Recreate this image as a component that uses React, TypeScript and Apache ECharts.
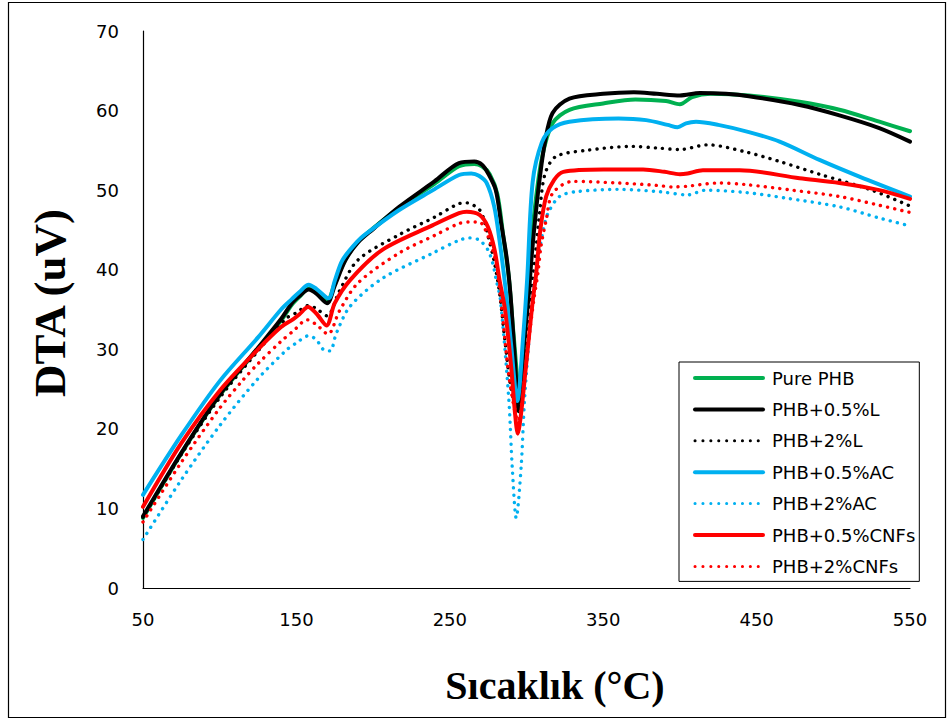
import React, { useEffect, useRef } from "react";
import * as echarts from "echarts";

const seriesNames = [
  "Pure PHB",
  "PHB+0.5%L",
  "PHB+2%L",
  "PHB+0.5%AC",
  "PHB+2%AC",
  "PHB+0.5%CNFs",
  "PHB+2%CNFs",
];

const xTickStart = 50;
const xTickEnd = 550;
const xTickStep = 100;
const yTickStart = 0;
const yTickEnd = 70;
const yTickStep = 10;

// Temperature (°C), DTA (uV)
const purePHB = [
  [50, 8.8], [75, 16.9], [100, 24.2], [125, 30.1], [140, 33.6], [147, 35.6], [152, 36.6], [158, 37.6], [163, 37.2],
  [170, 36.1], [175, 38.3], [182, 41.3], [190, 43.5], [200, 45.2], [217, 47.8], [240, 50.8], [256, 53.0],
  [266, 53.3], [271, 53.0], [276, 52.0], [281, 49.5], [285, 44], [288.5, 39], [291.5, 32], [295.5, 24.5],
  [299, 32], [302, 40], [305, 47], [310, 54], [317, 58.4], [328, 60.1], [350, 60.9], [371, 61.4], [391, 61.2],
  [400, 60.8], [408, 61.7], [420, 62.1], [445, 61.9], [478, 61.1], [504, 60.1], [530, 58.6], [550, 57.4],
];

const phb05L = [
  [50, 9.0], [75, 17.0], [100, 24.3], [125, 30.2], [140, 33.8], [147, 35.8], [152, 36.7], [158, 37.5], [163, 37.0],
  [170, 35.8], [175, 38.0], [182, 41.2], [190, 43.4], [200, 45.1], [217, 47.9], [240, 51.1], [256, 53.4],
  [266, 53.6], [271, 53.2], [275, 52.1], [280, 50.0], [283.5, 45.8], [287, 41.6], [289.5, 37.0], [292, 30],
  [295, 22.2], [298, 30], [301.5, 37], [303.5, 42], [306, 47], [308.5, 51.3], [312, 56], [317, 59.7],
  [328, 61.5], [350, 62.1], [370, 62.3], [385, 62.1], [400, 61.9], [413, 62.2], [430, 62.1], [445, 61.8],
  [478, 60.7], [504, 59.4], [530, 57.8], [550, 56.1],
];

const phb2L = [
  [50, 8.9], [75, 16.8], [100, 23.9], [125, 29.8], [143.5, 33.9], [150, 34.6], [158, 35.5], [163, 35.1],
  [170, 34.2], [178, 37.3], [190, 41.2], [217, 44.4], [240, 46.6], [256, 48.3], [261, 48.4], [269.5, 47.5],
  [272.7, 46.0], [275, 44.2], [279, 41], [282.5, 37], [286, 31], [290, 25], [294.5, 22], [299, 29], [303, 37],
  [306.3, 42.9], [308.5, 47.1], [312, 52], [319, 54.2], [339, 55.0], [369, 55.5], [385, 55.3], [400, 55.1],
  [418, 55.7], [443, 54.8], [465, 53.6], [491, 52.0], [525, 50.0], [550, 48.0],
];

const phb05AC = [
  [50, 11.7], [75, 19.2], [100, 26.0], [125, 31.5], [140, 35.0], [147, 36.3], [152, 37.2], [158, 38.1],
  [163, 37.6], [171, 36.4], [175, 38.6], [180, 41.2], [190, 43.6], [196, 44.6], [217, 47.5], [239, 50.0],
  [256, 51.9], [264, 52.1], [269, 51.8], [274, 50.9], [279, 47.9], [282.4, 43.7], [286.5, 37.4], [290, 30.5],
  [294, 23.5], [298, 32], [300.5, 39], [304, 51], [310, 56], [317, 57.8], [328, 58.6], [360, 59.0],
  [378, 58.8], [392, 58.2], [398.5, 57.9], [404, 58.4], [410.5, 58.6], [425, 58.2], [445, 57.3], [465, 56.1],
  [491, 53.8], [517, 51.7], [550, 49.2],
];

const phb2AC = [
  [50, 6.1], [75, 13.6], [100, 20.4], [124, 26.1], [143.5, 29.9], [150, 30.8], [158, 31.7], [163, 31.2],
  [168, 29.9], [172, 29.8], [176, 32.0], [185, 35.4], [206, 38.9], [239, 42.1], [256, 43.7], [263, 44.0],
  [269.4, 43.7], [274.8, 42.5], [278, 40.8], [280.3, 38.7], [283, 36.2], [288.5, 23.6], [290.7, 15.2],
  [293.3, 8.8], [296.5, 15.2], [298.7, 23.6], [302, 32], [305, 38], [308.5, 42.5], [311, 45], [314, 47.1],
  [321.5, 49.2], [332, 49.8], [360, 50.1], [387, 49.8], [405, 49.4], [417, 50.0], [443, 49.7], [469, 49.0],
  [504, 47.9], [530, 46.5], [550, 45.5],
];

const phb05CNFs = [
  [50, 10.2], [75, 18.2], [100, 24.8], [125, 30.0], [140, 32.8], [148, 33.8], [152, 34.4], [157.6, 35.3],
  [163, 34.5], [169.6, 33.0], [175, 35.8], [185, 38.7], [206, 42.5], [239, 45.6], [256, 47.1], [261, 47.3],
  [269.4, 46.9], [274.8, 45.4], [279.2, 42.5], [282.4, 38.7], [286, 35], [290, 27.8], [292.5, 22],
  [294.3, 19.4], [296.5, 22], [299.7, 28], [304, 36], [306.3, 39.5], [309, 45], [312.8, 49.2], [318, 51.3],
  [324, 52.3], [350, 52.6], [376, 52.6], [390, 52.3], [400, 52.0], [405, 52.1], [415, 52.5], [439, 52.5],
  [478, 51.5], [504, 50.9], [530, 50.0], [550, 48.9],
];

const phb2CNFs = [
  [50, 8.3], [75, 15.8], [100, 22.6], [115, 26.1], [125, 28.2], [140, 31.0], [148, 32.3], [157, 33.7],
  [163, 33.1], [170.6, 31.9], [178, 34.8], [190, 38.3], [217, 42.1], [240, 44.3], [256, 45.8], [263, 46.0],
  [269.4, 46.0], [272.7, 45.2], [275.9, 43.7], [279.2, 41.6], [281.3, 39.5], [285, 33], [289, 26],
  [294.5, 21], [298.5, 26], [302, 32], [305, 36.5], [307.4, 39.5], [309.5, 43], [312.8, 46.2], [317, 49.6],
  [330, 51.1], [360, 50.9], [385, 50.6], [395, 50.4], [405, 50.5], [425, 50.9], [443, 50.7], [473, 50.0],
  [504, 49.2], [530, 48.1], [550, 47.2],
];

const seriesData = [purePHB, phb05L, phb2L, phb05AC, phb2AC, phb05CNFs, phb2CNFs];
const seriesColors = ["#00B050", "#000000", "#000000", "#00B0F0", "#00B0F0", "#FF0000", "#FF0000"];
const seriesDotted = [false, false, true, false, true, false, true];

export default function App() {
  const ref = useRef<HTMLDivElement>(null);

  useEffect(() => {
    if (!ref.current) return;
    const chart = echarts.init(ref.current, null, { renderer: "svg" });
    const series = seriesNames.map((name, i) => ({
      name,
      type: "line",
      data: seriesData[i],
      symbol: "none",
      showSymbol: false,
      smooth: 0.3,
      z: 2,
      lineStyle: seriesDotted[i]
        ? { color: seriesColors[i], width: 3.4, type: [0.1, 7.2], cap: "round" }
        : { color: seriesColors[i], width: 4, type: "solid", cap: "round", join: "round" },
      itemStyle: { color: seriesColors[i] },
      emphasis: { disabled: true },
    }));

    const legendData = seriesNames.map((name, i) => ({
      name,
      lineStyle: seriesDotted[i]
        ? { color: seriesColors[i], width: 3, type: [0.1, 7.8], cap: "round" }
        : { color: seriesColors[i], width: 4, type: "solid", cap: "round" },
    }));

    chart.setOption({
      animation: false,
      backgroundColor: "#ffffff",
      grid: { left: 143, right: 40, top: 31, bottom: 132 },
      xAxis: {
        type: "value",
        min: xTickStart,
        max: xTickEnd,
        interval: xTickStep,
        axisLine: { show: true, onZero: false, lineStyle: { color: "#000", width: 1.2 } },
        axisTick: { show: false },
        splitLine: { show: false },
        axisLabel: { fontFamily: "DejaVu Sans", fontSize: 18, color: "#000", margin: 22 },
      },
      yAxis: {
        type: "value",
        min: yTickStart,
        max: yTickEnd,
        interval: yTickStep,
        axisLine: { show: true, lineStyle: { color: "#000", width: 1.2 } },
        axisTick: { show: false },
        splitLine: { show: false },
        axisLabel: { fontFamily: "DejaVu Sans", fontSize: 18, color: "#000", margin: 24 },
      },
      legend: {
        orient: "vertical",
        left: 679,
        top: 362,
        itemWidth: 68,
        itemHeight: 14,
        itemGap: 13.4,
        padding: [7, 4, 6, 14],
        borderColor: "#000",
        borderWidth: 1,
        backgroundColor: "#fff",
        itemStyle: { color: "rgba(0,0,0,0)", borderColor: "rgba(0,0,0,0)", borderWidth: 0 },
        textStyle: { fontFamily: "DejaVu Sans", fontSize: 18, color: "#000", padding: [0, 0, 0, 4] },
        data: legendData,
      },
      graphic: [
        {
          type: "rect",
          shape: { x: 8.5, y: 2.5, width: 937, height: 715 },
          style: { fill: "none", stroke: "#000", lineWidth: 1.2 },
          silent: true,
        },
        {
          type: "text",
          x: 50,
          y: 303,
          rotation: Math.PI / 2,
          style: {
            text: "DTA (uV)",
            font: "bold 45px 'Liberation Serif'",
            fill: "#000",
            textAlign: "center",
            textVerticalAlign: "middle",
          },
        },
        {
          type: "text",
          x: 555,
          y: 685,
          style: {
            text: "Sıcaklık (°C)",
            font: "bold 40px 'Liberation Serif'",
            fill: "#000",
            textAlign: "center",
            textVerticalAlign: "middle",
          },
        },
      ],
      series,
    });
    return () => chart.dispose();
  }, []);

  return (
    <div
      ref={ref}
      style={{ position: "fixed", left: 0, top: 0, width: 950, height: 720, background: "#fff" }}
    />
  );
}
